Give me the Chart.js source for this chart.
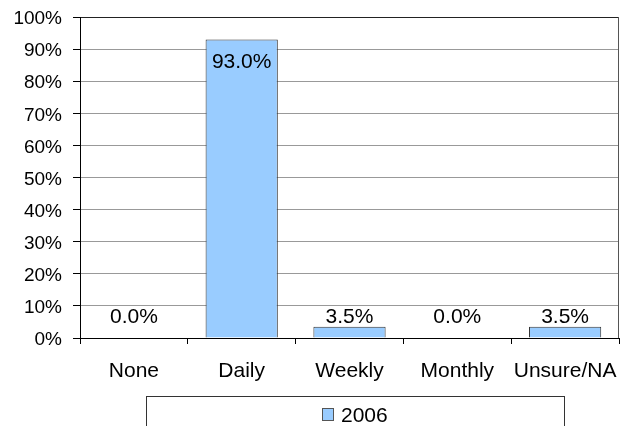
<!DOCTYPE html>
<html>
<head>
<meta charset="utf-8">
<script src="https://cdn.jsdelivr.net/npm/chart.js@4"></script>
<style>
  html, body { margin: 0; padding: 0; background: #fff; }
  #wrap { width: 620px; height: 426px; }
</style>
</head>
<body>
<div id="wrap"><canvas id="chart" width="620" height="426"></canvas></div>
<script>
// Chart data
const categories = ['None', 'Daily', 'Weekly', 'Monthly', 'Unsure/NA'];
const seriesName = '2006';
const seriesValues = [0.0, 93.0, 3.5, 0.0, 3.5];
const yTicks = [0, 10, 20, 30, 40, 50, 60, 70, 80, 90, 100];

const FONT = "Arial, 'Liberation Sans', sans-serif";
const BAR_FILL = '#99CCFF';
const BAR_EDGE = '#333333';

// Value labels: inside the top of tall bars, above short ones
const valueLabels = {
    id: 'valueLabels',
    afterDatasetsDraw(chart) {
        const { ctx } = chart;
        const meta = chart.getDatasetMeta(0);
        const base = chart.scales.y.getPixelForValue(0);
        ctx.save();
        ctx.fillStyle = '#000';
        ctx.font = '21px ' + FONT;
        ctx.textAlign = 'center';
        ctx.textBaseline = 'middle';
        seriesValues.forEach((v, i) => {
            const bar = meta.data[i];
            const p = bar.getProps(['x', 'y'], true);
            let y;
            if (v > 50) y = p.y + 23;
            else y = Math.min(p.y, base - 12) - 9;
            ctx.fillText(v.toFixed(1) + '%', p.x, y);
        });
        ctx.restore();
    }
};

// Right edge of the plot area
const plotFrame = {
    id: 'plotFrame',
    beforeDatasetsDraw(chart) {
        const { ctx, chartArea: a } = chart;
        ctx.save();
        ctx.lineWidth = 1;
        ctx.strokeStyle = '#555';
        ctx.beginPath();
        ctx.moveTo(Math.round(a.right) - 0.5, a.top);
        ctx.lineTo(Math.round(a.right) - 0.5, a.bottom);
        ctx.stroke();
        ctx.restore();
    }
};

// Boxed legend under the chart
const boxLegend = {
    id: 'boxLegend',
    afterDraw(chart) {
        const { ctx } = chart;
        ctx.save();
        ctx.strokeStyle = '#333';
        ctx.lineWidth = 1;
        ctx.strokeRect(146.5, 396.5, 418, 40);
        ctx.fillStyle = BAR_FILL;
        ctx.fillRect(322, 408, 12, 13);
        ctx.strokeStyle = '#555';
        ctx.strokeRect(322.5, 408.5, 11, 12);
        ctx.fillStyle = '#000';
        ctx.font = '21px ' + FONT;
        ctx.textAlign = 'left';
        ctx.textBaseline = 'alphabetic';
        ctx.fillText(chart.data.datasets[0].label, 341, 421.5);
        ctx.restore();
    }
};

new Chart(document.getElementById('chart').getContext('2d'), {
    type: 'bar',
    data: {
        labels: categories,
        datasets: [{
            label: seriesName,
            data: seriesValues,
            backgroundColor: BAR_FILL,
            borderColor: BAR_EDGE,
            borderWidth: 1,
            categoryPercentage: 1,
            barPercentage: 0.67
        }]
    },
    options: {
        responsive: false,
        devicePixelRatio: 1,
        animation: false,
        layout: { padding: { top: 17, right: 1, bottom: 0, left: 0 } },
        scales: {
            x: {
                afterFit(scale) {
                    scale.height = 88;
                    scale.paddingLeft = 0;
                    scale.paddingRight = 0;
                },
                grid: {
                    offset: true,
                    drawOnChartArea: false,
                    drawTicks: true,
                    tickLength: 6,
                    color: '#000'
                },
                border: { display: true, color: '#000', width: 1 },
                ticks: {
                    color: '#000',
                    padding: 15,
                    maxRotation: 0,
                    autoSkip: false,
                    font: { family: FONT, size: 21 }
                }
            },
            y: {
                min: 0,
                max: 100,
                afterFit(scale) {
                    scale.width = 80;
                    scale.paddingTop = 0;
                    scale.paddingBottom = 0;
                },
                afterBuildTicks(scale) { scale.ticks = yTicks.map(v => ({ value: v })); },
                grid: {
                    color: ctx => (ctx.tick && ctx.tick.value === 100 ? '#222' : '#999'),
                    tickColor: '#000',
                    tickLength: 7
                },
                border: { display: true, color: '#000', width: 1 },
                ticks: {
                    color: '#000',
                    padding: 11,
                    labelOffset: 2,
                    font: { family: FONT, size: 19 },
                    callback: v => v + '%'
                }
            }
        },
        plugins: {
            legend: { display: false },
            tooltip: { enabled: false }
        }
    },
    plugins: [plotFrame, valueLabels, boxLegend]
});
</script>
</body>
</html>
